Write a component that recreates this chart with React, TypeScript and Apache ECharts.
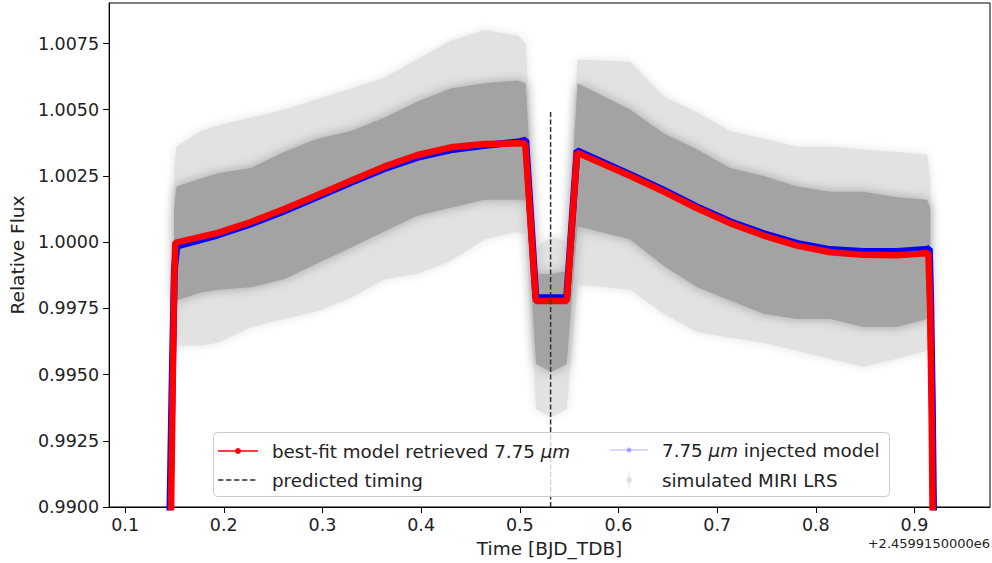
import React, { useEffect, useRef } from "react";
import * as echarts from "echarts";

// ---- axis ticks ----
const xTicks = [0.1, 0.2, 0.3, 0.4, 0.5, 0.6, 0.7, 0.8, 0.9];
const yTicks = [0.99, 0.9925, 0.995, 0.9975, 1.0, 1.0025, 1.005, 1.0075];
const xMin = 0.0838;
const xMax = 0.9765;
const yMin = 0.99;
const yMax = 1.00903;

// ---- best-fit model (red) ----
const fitTime = [
  0.1455, 0.1466, 0.1482, 0.1497, 0.1508, 0.1516, 0.1938, 0.2275, 0.2613, 0.295, 0.3287,
  0.3625, 0.3962, 0.43, 0.4637, 0.4975, 0.5055, 0.5163, 0.5475, 0.558, 0.6121, 0.6459,
  0.6796, 0.7134, 0.7471, 0.7809, 0.8146, 0.8483, 0.8821, 0.9107, 0.914, 0.9158, 0.9172,
  0.9183, 0.9195,
];
const fitFlux = [
  0.988, 0.99, 0.9945, 0.9985, 0.99995, 0.99998, 1.00035, 1.00076, 1.00125, 1.00178, 1.00232,
  1.00285, 1.00329, 1.00358, 1.00371, 1.00373, 1.00372, 0.99778, 0.99778, 1.00338, 1.0025,
  1.00191, 1.00128, 1.00071, 1.00025, 0.99987, 0.99962, 0.99952, 0.99951, 0.99958, 0.99958,
  0.9975, 0.994, 0.99, 0.988,
];

// ---- injected model (blue) ----
const injTime = [
  0.144, 0.1455, 0.1478, 0.15, 0.1525, 0.1938, 0.2275, 0.2613, 0.295, 0.3287, 0.3625,
  0.3962, 0.43, 0.4637, 0.4975, 0.506, 0.5163, 0.5475, 0.558, 0.6121, 0.6459, 0.6796,
  0.7134, 0.7471, 0.7809, 0.8146, 0.8483, 0.8821, 0.9107, 0.915, 0.9165, 0.918, 0.9192,
  0.9205,
];
const injFlux = [
  0.988, 0.99, 0.995, 0.999, 0.99985, 1.00027, 1.00069, 1.00118, 1.00171, 1.00225, 1.00277,
  1.0032, 1.00349, 1.00365, 1.00378, 1.00385, 0.9979, 0.9979, 1.00345, 1.00255, 1.00196,
  1.00133, 1.00077, 1.00032, 0.99995, 0.99972, 0.99965, 0.99965, 0.99972, 0.99975, 0.9975,
  0.994, 0.99, 0.988,
];

// ---- simulated MIRI LRS data cloud (envelopes) ----
const cloudTime = [
  0.1495, 0.152, 0.177, 0.194, 0.2275, 0.261, 0.295, 0.329, 0.3625, 0.396, 0.43, 0.464,
  0.498, 0.506, 0.5165, 0.532, 0.5475, 0.5585, 0.612, 0.646, 0.68, 0.713, 0.747, 0.781,
  0.815, 0.848, 0.882, 0.9128, 0.916,
];
const cloudOuterTop = [
  1.0028, 1.0036, 1.0042, 1.0044, 1.0047, 1.005, 1.0054, 1.0058, 1.0062, 1.0069, 1.0076,
  1.008, 1.0078, 1.0075, 0.9998, 1.0002, 1.0, 1.0069, 1.0068, 1.0055, 1.0049, 1.0042,
  1.0039, 1.0036, 1.0036, 1.0035, 1.0034, 1.0033, 1.0024,
];
const cloudOuterBottom = [
  0.9945, 0.9961, 0.9961, 0.9962, 0.9968, 0.9971, 0.9974, 0.9979, 0.9986, 0.9988, 0.9993,
  1.0001, 1.0004, 1.0003, 0.9937, 0.9934, 0.9937, 0.9984, 0.9982, 0.9973, 0.9966, 0.9964,
  0.9962, 0.9959, 0.9956, 0.9953, 0.9956, 0.9959, 0.996,
];
const cloudCoreTop = [
  1.0012, 1.0021, 1.0024, 1.0026, 1.0028, 1.0034, 1.0039, 1.0042, 1.0047, 1.0053, 1.0058,
  1.006, 1.0061, 1.006, 0.9988, 0.9988, 0.9989, 1.006, 1.005, 1.0041, 1.0035, 1.0028,
  1.0025, 1.0021, 1.0019, 1.0019, 1.0017, 1.0016, 1.0013,
];
const cloudCoreBottom = [
  0.9966, 0.9978, 0.9981, 0.9982, 0.9983, 0.9986, 0.9992, 0.9998, 1.0004, 1.001, 1.0013,
  1.0016, 1.0016, 1.0016, 0.9954, 0.9951, 0.9954, 1.0006, 1.0001, 0.9991, 0.9983, 0.9978,
  0.9973, 0.9971, 0.9971, 0.9968, 0.9968, 0.9971, 0.9972,
];

// ---- predicted timing ----
const timingTime = 0.5312;
const timingTop = 1.005;

const FONT = "DejaVu Sans";
const TXT = "#222";
const TICK_FS = 17.5;
const NAME_FS = 18.5;
const LEG_FS = 18.3;

function bandRenderer(top: number[], bottom: number[], color: string, blur: number) {
  return (params: any, api: any) => {
    if (params.dataIndex !== 0) return null;
    const pts: number[][] = [];
    for (let i = 0; i < cloudTime.length; i++) pts.push(api.coord([cloudTime[i], top[i]]));
    for (let i = cloudTime.length - 1; i >= 0; i--) pts.push(api.coord([cloudTime[i], bottom[i]]));
    return {
      type: "polygon",
      shape: { points: pts },
      style: { fill: color, stroke: "none", shadowBlur: blur, shadowColor: color },
    };
  };
}

export default function App() {
  const ref = useRef<HTMLDivElement>(null);
  useEffect(() => {
    if (!ref.current) return;
    const chart = echarts.init(ref.current, undefined, { renderer: "svg" });
    const rich = {
      n: { fontFamily: FONT, fontSize: LEG_FS, fill: TXT, color: TXT },
      i: { fontFamily: FONT, fontSize: LEG_FS, fontStyle: "italic", fill: TXT, color: TXT },
    };
    chart.setOption({
      animation: false,
      backgroundColor: "#fff",
      grid: {
        left: 108,
        top: 3,
        right: 2,
        bottom: 56,
        show: true,
        borderColor: "#000",
        borderWidth: 1,
        backgroundColor: "transparent",
        containLabel: false,
      },
      xAxis: {
        type: "value",
        min: xMin,
        max: xMax,
        name: "Time [BJD_TDB]",
        nameLocation: "middle",
        nameGap: 32,
        nameTextStyle: { fontFamily: FONT, fontSize: NAME_FS, color: TXT },
        axisLine: { show: true, lineStyle: { color: "#000", width: 1 } },
        axisTick: { show: true, customValues: xTicks, length: 6, lineStyle: { color: "#000" } },
        axisLabel: {
          customValues: xTicks,
          formatter: (v: number) => v.toFixed(1),
          fontFamily: FONT,
          fontSize: TICK_FS,
          color: TXT,
          margin: 9,
        },
        splitLine: { show: false },
      },
      yAxis: {
        type: "value",
        min: yMin,
        max: yMax,
        name: "Relative Flux",
        nameLocation: "middle",
        nameGap: 81,
        nameTextStyle: { fontFamily: FONT, fontSize: NAME_FS, color: TXT },
        axisLine: { show: true, lineStyle: { color: "#000", width: 1 } },
        axisTick: { show: true, customValues: yTicks, length: 6, lineStyle: { color: "#000" } },
        axisLabel: {
          customValues: yTicks,
          formatter: (v: number) => v.toFixed(4),
          fontFamily: FONT,
          fontSize: TICK_FS,
          color: TXT,
          margin: 10,
        },
        splitLine: { show: false },
      },
      series: [
        {
          name: "simulated MIRI LRS (spread)",
          type: "custom",
          z: 1,
          clip: true,
          data: cloudTime.map((t, i) => [t, cloudOuterTop[i]]),
          renderItem: bandRenderer(cloudOuterTop, cloudOuterBottom, "#e2e2e2", 10),
        },
        {
          name: "simulated MIRI LRS",
          type: "custom",
          z: 2,
          clip: true,
          data: cloudTime.map((t, i) => [t, cloudCoreTop[i]]),
          renderItem: bandRenderer(cloudCoreTop, cloudCoreBottom, "#a3a3a3", 12),
        },
        {
          name: "7.75 μm injected model",
          type: "line",
          z: 3,
          showSymbol: false,
          symbol: "none",
          data: injTime.map((t, i) => [t, injFlux[i]]),
          lineStyle: { color: "#0000ff", width: 7 },
          clip: true,
        },
        {
          name: "best-fit model retrieved 7.75 μm",
          type: "line",
          z: 4,
          showSymbol: false,
          symbol: "none",
          data: fitTime.map((t, i) => [t, fitFlux[i]]),
          lineStyle: { color: "#ff0000", width: 6.5 },
          clip: true,
        },
        {
          name: "predicted timing",
          type: "line",
          z: 5,
          showSymbol: false,
          symbol: "none",
          data: [
            [timingTime, yMin],
            [timingTime, timingTop],
          ],
          lineStyle: { color: "#333", width: 1.5, type: [5, 2.5] },
          clip: true,
        },
      ],
      graphic: [
        {
          type: "text",
          z: 50,
          right: 2,
          top: 537,
          style: {
            text: "+2.4599150000e6",
            fontFamily: FONT,
            fontSize: 13,
            fill: TXT,
          },
        },
        {
          type: "group",
          z: 100,
          children: [
            {
              type: "rect",
              shape: { x: 213.5, y: 432.5, width: 676, height: 64, r: 4 },
              style: { fill: "rgba(255,255,255,0.8)", stroke: "#cccccc", lineWidth: 1 },
              z: 100,
            },
            {
              type: "line",
              shape: { x1: 218, y1: 451, x2: 258, y2: 451 },
              style: { stroke: "#ff0000", lineWidth: 1.5 },
              z: 101,
            },
            {
              type: "circle",
              shape: { cx: 238, cy: 451, r: 3 },
              style: { fill: "#ff0000" },
              z: 101,
            },
            {
              type: "text",
              x: 272,
              y: 451,
              z: 101,
              style: {
                text: "{n|best-fit model retrieved 7.75 }{i|μm}",
                rich,
                verticalAlign: "middle",
                fontFamily: FONT,
                fontSize: LEG_FS,
                fill: TXT,
              },
            },
            {
              type: "line",
              shape: { x1: 218, y1: 480, x2: 258, y2: 480 },
              style: { stroke: "#333", lineWidth: 1.5, lineDash: [5.5, 2.5] },
              z: 101,
            },
            {
              type: "text",
              x: 272,
              y: 480,
              z: 101,
              style: {
                text: "predicted timing",
                verticalAlign: "middle",
                fontFamily: FONT,
                fontSize: LEG_FS,
                fill: TXT,
              },
            },
            {
              type: "line",
              shape: { x1: 610, y1: 450, x2: 648, y2: 450 },
              style: { stroke: "rgba(0,0,255,0.2)", lineWidth: 1.5 },
              z: 101,
            },
            {
              type: "circle",
              shape: { cx: 629, cy: 450, r: 2.5 },
              style: { fill: "rgba(0,0,255,0.3)" },
              z: 101,
            },
            {
              type: "text",
              x: 662,
              y: 450,
              z: 101,
              style: {
                text: "{n|7.75 }{i|μm}{n| injected model}",
                rich,
                verticalAlign: "middle",
                fontFamily: FONT,
                fontSize: LEG_FS,
                fill: TXT,
              },
            },
            {
              type: "line",
              shape: { x1: 629, y1: 471, x2: 629, y2: 489 },
              style: { stroke: "rgba(128,128,128,0.18)", lineWidth: 1.5 },
              z: 101,
            },
            {
              type: "circle",
              shape: { cx: 629, cy: 480, r: 3 },
              style: { fill: "rgba(128,128,128,0.18)" },
              z: 101,
            },
            {
              type: "text",
              x: 662,
              y: 480,
              z: 101,
              style: {
                text: "simulated MIRI LRS",
                verticalAlign: "middle",
                fontFamily: FONT,
                fontSize: LEG_FS,
                fill: TXT,
              },
            },
          ],
        },
      ],
    });
    return () => chart.dispose();
  }, []);
  return (
    <div
      ref={ref}
      style={{ position: "fixed", left: 0, top: 0, width: 992, height: 563, background: "#fff" }}
    />
  );
}
